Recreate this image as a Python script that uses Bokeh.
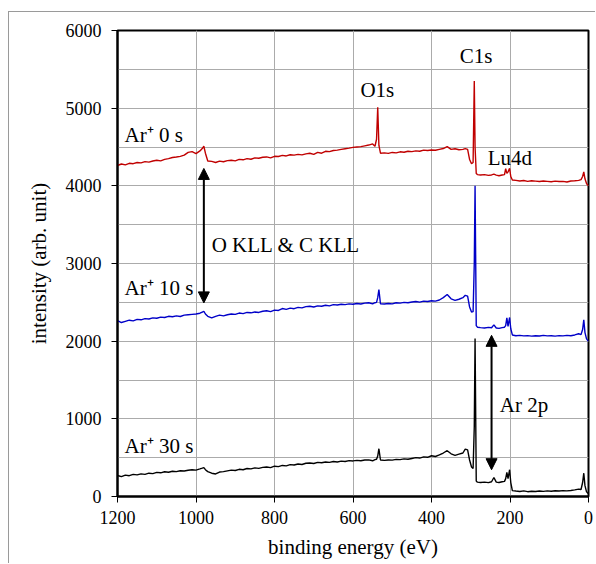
from bokeh.plotting import figure
from bokeh.models import Range1d, FixedTicker, Arrow, NormalHead, ColumnDataSource
from bokeh.core.properties import value
from bokeh.embed import file_html
from bokeh.resources import INLINE

# binding energy (eV), shared by the three spectra
energy = [
    1200, 1190, 1180, 1170, 1160, 1150, 1140, 1130, 1120, 1110, 1100, 1090, 1080, 1070, 1060, 1050, 1040, 1030, 1020, 1010, 1000,
    990, 984, 980, 976, 970,
    960, 950, 940, 930, 920, 910, 900, 890, 880, 870, 860, 850, 840, 830, 820, 810, 800, 790, 780, 770, 760, 750, 740, 730, 720, 710,
    700, 690, 680, 670, 660, 650, 640, 630, 620, 610, 600, 590, 580, 570, 560,
    550, 544, 540, 537, 534, 530,
    520, 510, 500, 490, 480, 470, 460, 450, 440, 430, 420, 410, 400, 390, 380, 370, 360, 350, 340, 330, 320,
    314, 308, 303, 298, 294, 291, 289, 286, 283,
    275, 265, 255, 247, 241, 235, 228, 220, 214, 211, 208, 205, 201, 198, 194,
    185, 175, 165, 155, 145, 135, 125, 115, 105, 95, 85, 75, 65, 55, 45, 35, 25,
    19, 15, 12, 9, 5, 2, 0,
]

ar_0s = [
    4262, 4281, 4270, 4290, 4285, 4300, 4296, 4312, 4305, 4320, 4330, 4322, 4341, 4350, 4365, 4372, 4380, 4395, 4430, 4440, 4415,
    4450, 4480, 4510, 4420, 4320,
    4315, 4300, 4318, 4310, 4325, 4330, 4322, 4340, 4335, 4350, 4342, 4360, 4355, 4368, 4372, 4360, 4380, 4378, 4392, 4385, 4400, 4395, 4405, 4398, 4412, 4420,
    4405, 4430, 4420, 4445, 4440, 4455, 4460, 4470, 4478, 4485, 4495, 4500, 4505, 4515, 4525,
    4540, 4510, 4600, 5010, 4520, 4420,
    4425, 4418, 4430, 4425, 4438, 4432, 4445, 4440, 4450, 4445, 4460, 4455, 4462, 4458, 4470, 4480, 4505, 4470, 4478, 4465, 4470,
    4480, 4470, 4340, 4285, 4300, 5350, 4500, 4160, 4145,
    4140, 4145, 4135, 4140, 4150, 4138, 4130, 4140, 4145, 4220, 4160, 4180, 4225, 4120, 4075,
    4070, 4062, 4068, 4058, 4065, 4060, 4055, 4062, 4058, 4052, 4060, 4055, 4058, 4050, 4062, 4065, 4070,
    4080, 4120, 4180, 4090, 4030, 4010, 4000,
]

ar_10s = [
    2265, 2240, 2255, 2270, 2262, 2280, 2275, 2290, 2285, 2300, 2295, 2310, 2305, 2320, 2315, 2325, 2318, 2335, 2340, 2345, 2350,
    2360, 2375, 2385, 2350, 2320,
    2300, 2320, 2335, 2325, 2340, 2350, 2345, 2362, 2355, 2370, 2365, 2375, 2370, 2385, 2392, 2380, 2400, 2395, 2420, 2410, 2425, 2418, 2435, 2428, 2445, 2450,
    2440, 2455, 2450, 2462, 2455, 2470, 2465, 2475, 2470, 2480, 2475, 2485, 2478, 2490, 2495,
    2480, 2495, 2500, 2560, 2665, 2480,
    2478, 2485, 2480, 2495, 2490, 2500, 2495, 2505, 2510, 2502, 2515, 2510, 2520, 2515, 2530, 2560, 2600, 2545, 2525, 2540, 2560,
    2590, 2580, 2440, 2375, 2380, 3000, 4000, 2200, 2180,
    2175, 2170, 2178, 2172, 2210, 2170, 2165, 2175, 2180, 2200, 2300, 2190, 2305, 2160, 2080,
    2070, 2075, 2068, 2072, 2065, 2070, 2066, 2074, 2068, 2070, 2065, 2072, 2068, 2075, 2070, 2080, 2095,
    2085, 2150, 2275, 2110, 2030, 2010, 2000,
]

ar_30s = [
    270, 255, 275, 268, 285, 278, 292, 285, 300, 295, 310, 305, 318, 312, 325, 320, 332, 328, 338, 345, 340,
    355, 365, 372, 345, 320,
    300, 290, 315, 320, 330, 340, 335, 350, 345, 360, 355, 368, 362, 375, 380, 372, 390, 385, 400, 395, 410, 405, 418, 412, 428, 432,
    425, 440, 435, 445, 440, 450, 445, 455, 450, 462, 458, 465, 460, 470, 472,
    460, 475, 480, 520, 615, 470,
    465, 470, 468, 478, 475, 485, 480, 490, 500, 495, 510, 505, 525, 515, 535, 560, 590, 550, 530, 545, 560,
    610, 600, 470, 380, 360, 900, 2035, 200, 185,
    180, 185, 178, 190, 245, 185, 180, 190, 195, 230, 310, 230, 345, 180, 75,
    70, 65, 72, 62, 68, 64, 70, 66, 72, 68, 74, 70, 76, 72, 78, 85, 95,
    90, 180, 300, 140, 60, 45, 40,
]

x_ticks = [1200, 1000, 800, 600, 400, 200, 0]
y_ticks = [0, 1000, 2000, 3000, 4000, 5000, 6000]
y_minor = [500, 1500, 2500, 3500, 4500, 5500]

series_labels = ["Ar\u207a 0 s", "Ar\u207a 10 s", "Ar\u207a 30 s"]
series_label_pos = [(1182, 4650), (1182, 2680), (1182, 645)]
peak_labels = ["O1s", "C1s", "Lu4d", "O KLL & C KLL", "Ar 2p"]
peak_label_pos = [(581, 5235), (328, 5672), (257, 4357), (960, 3235), (226, 1173)]
arrows = [(980, 2492, 4224), (247, 344, 2075)]

FONT = "Liberation Serif"

p = figure(width=587, height=552, output_backend="svg", toolbar_location=None,
           x_range=Range1d(1200, 0), y_range=Range1d(0, 6000),
           min_border_left=108, min_border_right=8, min_border_top=18, min_border_bottom=68,
           background_fill_color="white", border_fill_color="white")
p.styles = {"margin-left": "8px", "margin-top": "11px",
            "border-left": "1px solid #9a9a9a", "border-top": "1px solid #9a9a9a"}

p.outline_line_color = "black"
p.outline_line_width = 2

p.xaxis.ticker = FixedTicker(ticks=x_ticks)
p.yaxis.ticker = FixedTicker(ticks=y_ticks, minor_ticks=y_minor)
p.xgrid.ticker = FixedTicker(ticks=x_ticks)
p.ygrid.ticker = FixedTicker(ticks=y_ticks, minor_ticks=y_minor)

for g in (p.xgrid, p.ygrid):
    g.grid_line_color = "#ababab"
    g.grid_line_width = 1
p.ygrid.minor_grid_line_color = "#ababab"
p.ygrid.minor_grid_line_width = 1

for ax in (p.xaxis, p.yaxis):
    ax.axis_line_color = "black"
    ax.axis_line_width = 2
    ax.major_tick_line_color = "black"
    ax.major_tick_line_width = 1
    ax.major_tick_out = 6
    ax.major_tick_in = 0
    ax.minor_tick_line_color = None
    ax.major_label_text_font = FONT
    ax.major_label_text_font_size = "18px"
    ax.major_label_text_color = "black"
    ax.axis_label_text_font = FONT
    ax.axis_label_text_font_size = "21px"
    ax.axis_label_text_font_style = "normal"
    ax.axis_label_text_color = "black"

p.xaxis.axis_label = "binding energy (eV)"
p.yaxis.axis_label = "intensity (arb. unit)"
p.xaxis.major_label_standoff = 8
p.yaxis.major_label_standoff = 10
p.xaxis.axis_label_standoff = 8
p.yaxis.axis_label_standoff = 12

src = ColumnDataSource(dict(e=energy, a=ar_0s, b=ar_10s, c=ar_30s))
p.line("e", "a", source=src, line_color="#c00000", line_width=1.4)
p.line("e", "b", source=src, line_color="#0000c8", line_width=1.4)
p.line("e", "c", source=src, line_color="black", line_width=1.4)

lab_x = [pos[0] for pos in series_label_pos] + [pos[0] for pos in peak_label_pos]
lab_y = [pos[1] for pos in series_label_pos] + [pos[1] for pos in peak_label_pos]
p.text(x=lab_x, y=lab_y, text=series_labels + peak_labels,
       text_font=value(FONT), text_font_size="21px", text_color="black",
       text_align="left", text_baseline="middle")

for (xa, y0, y1) in arrows:
    p.add_layout(Arrow(x_start=xa, y_start=y0 + 1, x_end=xa, y_end=y1,
                       start=NormalHead(size=11, fill_color="black", line_color="black"),
                       end=NormalHead(size=11, fill_color="black", line_color="black"),
                       line_color="black", line_width=2))

open("out.html", "w").write(file_html(p, INLINE))
